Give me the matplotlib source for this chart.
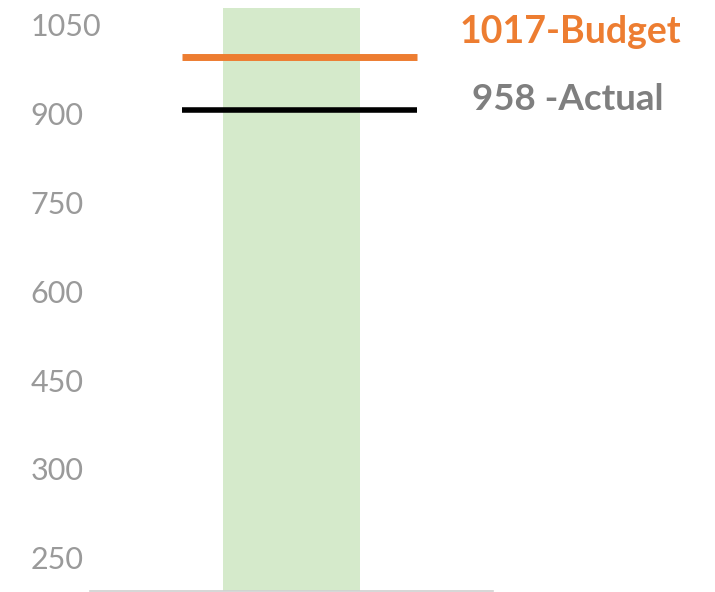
import numpy as np
import matplotlib
matplotlib.use('Agg')
import matplotlib.pyplot as plt

# values
budget = 1017
actual = 958
bar_top = 1072
y_min = 424
tick_labels = ['250', '300', '450', '600', '750', '900', '1050']
ann_labels = ['1017-Budget', '958 -Actual']

orange = '#ED7D31'
grey_txt = '#7F7F7F'

fig = plt.figure(figsize=(7.15, 5.92), dpi=100)
ax = fig.add_axes([0.1259, 0.0017, 0.5636, 0.985])

ax.bar(0.5, bar_top - y_min, bottom=y_min, width=0.34, color='#D5EACB', zorder=1)
ax.hlines(budget, 0.228, 0.811, color=orange, lw=5, zorder=3)
ax.hlines(actual, 0.228, 0.811, color='black', lw=4, zorder=3)

ax.annotate(ann_labels[0], xy=(0.918, budget), xytext=(0, 10), textcoords='offset points',
            ha='left', va='baseline', color=orange, fontsize=27, fontweight='bold',
            family='Lato', annotation_clip=False)
ax.annotate(ann_labels[1], xy=(0.947, actual), xytext=(0, 0), textcoords='offset points',
            ha='left', va='baseline', color=grey_txt, fontsize=26.5, fontweight='bold',
            family='Lato', annotation_clip=False)

ax.set_xlim(0, 1)
ax.set_ylim(y_min, bar_top)

# tick labels sit evenly along the axis, not at their values
ticks = np.linspace(461, 1053, len(tick_labels))
ax.set_yticks(ticks)
ax.set_yticklabels(tick_labels, family='Lato', fontsize=22, color='#9A9A9A', ha='left')
ax.tick_params(axis='y', length=0, pad=43)
ax.set_xticks([])

for s in ['top', 'right', 'left']:
    ax.spines[s].set_visible(False)
ax.spines['bottom'].set_color('#D0D0D0')
ax.spines['bottom'].set_linewidth(1.2)

fig.savefig('out.png', dpi=100)
